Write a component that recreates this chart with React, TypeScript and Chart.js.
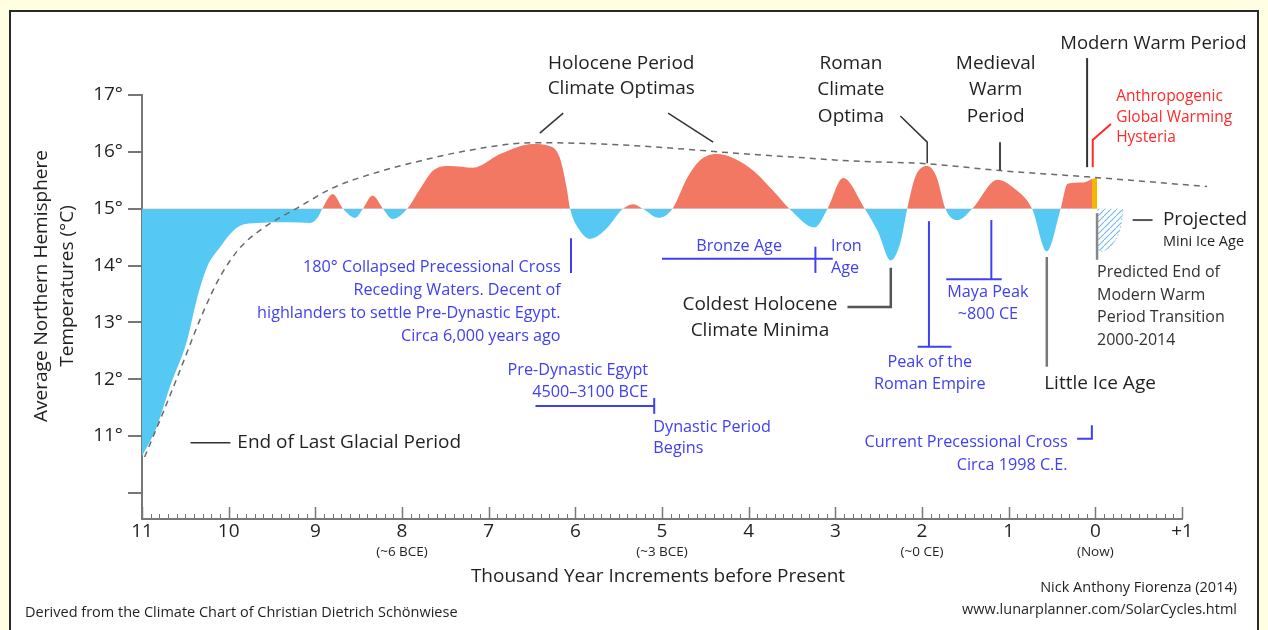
import React, { useEffect, useRef } from "react";
import { Chart, registerables } from "chart.js";
Chart.register(...registerables);

const FONT = "'Open Sans', Lato, sans-serif";
const DARK = "#231f20";
const BLUE = "#4040f2";
const RED = "#ff2a2a";
const RED_FILL = "#f27864";
const BLUE_FILL = "#55c8f3";
const ORANGE_FILL = "#f7b500";

// Temperature curve (thousand years before present, °C)
const tempYears = [11.0, 10.91, 10.83, 10.68, 10.48, 10.37, 10.25, 10.1, 9.98, 9.87, 9.67, 9.29, 9.06, 8.97, 8.92, 8.8, 8.68, 8.54, 8.45, 8.34, 8.22, 8.11, 7.94, 7.79, 7.64, 7.45, 7.18, 6.87, 6.49, 6.29, 6.18, 6.1, 6.06, 5.95, 5.83, 5.66, 5.45, 5.33, 5.22, 5.04, 4.88, 4.71, 4.56, 4.37, 3.99, 3.72, 3.53, 3.24, 3.09, 2.91, 2.66, 2.51, 2.36, 2.25, 2.17, 2.08, 1.94, 1.83, 1.73, 1.59, 1.42, 1.13, 0.93, 0.73, 0.56, 0.4, 0.32, 0.14, 0.03];
const tempValues = [10.65, 10.9, 11.16, 11.86, 12.68, 13.39, 13.97, 14.32, 14.56, 14.7, 14.75, 14.76, 14.75, 14.85, 15.0, 15.26, 15.0, 14.84, 15.0, 15.23, 15.0, 14.82, 15.0, 15.35, 15.67, 15.75, 15.72, 15.96, 16.14, 16.1, 15.9, 15.37, 15.0, 14.62, 14.47, 14.62, 15.0, 15.08, 15.0, 14.84, 15.0, 15.54, 15.85, 15.96, 15.72, 15.32, 15.0, 14.67, 15.0, 15.54, 15.0, 14.6, 14.09, 14.4, 15.0, 15.55, 15.75, 15.55, 15.0, 14.8, 15.0, 15.51, 15.35, 15.0, 14.25, 15.0, 15.44, 15.46, 15.53];

// Anthropogenic segment
const modernYears = [0.04, -0.02];
const modernValues = [15.52, 15.55];

// Projected mini ice age
const projYears = [-0.03, -0.03, -0.08, -0.2, -0.28, -0.32];
const projValues = [15.0, 14.3, 14.25, 14.38, 14.62, 15.0];

// Long-term trend (dashed)
const trendYears = [10.97, 10.76, 10.56, 10.3, 10.1, 9.87, 9.6, 9.21, 8.79, 8.22, 7.79, 7.25, 6.49, 5.72, 4.94, 4.18, 3.41, 2.83, 1.94, 1.1, 0.1, -1.29];
const trendValues = [10.63, 11.4, 12.16, 13.16, 13.8, 14.31, 14.66, 15.01, 15.37, 15.67, 15.84, 16.02, 16.16, 16.14, 16.07, 15.98, 15.9, 15.84, 15.79, 15.67, 15.56, 15.39];

const yTickValues = [10, 11, 12, 13, 14, 15, 16, 17];
const xSubLabelYears = [8, 5, 2, 0];
const xSubLabelTexts = ["(~6 BCE)", "(~3 BCE)", "(~0 CE)", "(Now)"];

type TextNote = { lines: string[]; v: number; t: number; align: CanvasTextAlign; color: string; size: number; lh?: number };
type LineNote = { pts: number[][]; color: string; w: number };

const textNotes: TextNote[] = [
  { lines: ["Holocene Period", "Climate Optimas"], v: 5.47, t: 17.56, align: "center", color: DARK, size: 19, lh: 25 },
  { lines: ["Roman", "Climate", "Optima"], v: 2.82, t: 17.56, align: "center", color: DARK, size: 19, lh: 26.5 },
  { lines: ["Medieval", "Warm", "Period"], v: 1.15, t: 17.56, align: "center", color: DARK, size: 19, lh: 26.5 },
  { lines: ["Modern Warm Period"], v: -0.67, t: 17.9, align: "center", color: DARK, size: 18.5 },
  { lines: ["Anthropogenic", "Global Warming", "Hysteria"], v: -0.24, t: 16.97, align: "left", color: RED, size: 15.5, lh: 20.5 },
  { lines: ["180° Collapsed Precessional Cross", "Receding Waters. Decent of", "highlanders to settle Pre-Dynastic Egypt.", "Circa 6,000 years ago"], v: 6.17, t: 13.96, align: "right", color: BLUE, size: 16.2, lh: 22.7 },
  { lines: ["Bronze Age"], v: 4.11, t: 14.34, align: "center", color: BLUE, size: 16.2 },
  { lines: ["Iron", "Age"], v: 3.05, t: 14.33, align: "left", color: BLUE, size: 16.2, lh: 22 },
  { lines: ["Coldest Holocene", "Climate Minima"], v: 3.87, t: 13.32, align: "center", color: DARK, size: 19, lh: 26 },
  { lines: ["Peak of the", "Roman Empire"], v: 1.91, t: 12.29, align: "center", color: BLUE, size: 16.2, lh: 22 },
  { lines: ["Maya Peak", "~800 CE"], v: 1.24, t: 13.52, align: "center", color: BLUE, size: 16.2, lh: 22 },
  { lines: ["Little Ice Age"], v: 0.59, t: 11.93, align: "left", color: DARK, size: 19 },
  { lines: ["Current Precessional Cross", "Circa 1998 C.E."], v: 0.32, t: 10.88, align: "right", color: BLUE, size: 16.2, lh: 23 },
  { lines: ["Projected"], v: -0.78, t: 14.8, align: "left", color: DARK, size: 19 },
  { lines: ["Mini Ice Age"], v: -0.78, t: 14.41, align: "left", color: DARK, size: 14.5 },
  { lines: ["Predicted End of", "Modern Warm", "Period Transition", "2000-2014"], v: -0.02, t: 13.87, align: "left", color: "#333", size: 16, lh: 22.5 },
  { lines: ["Pre-Dynastic Egypt", "4500\u20133100 BCE"], v: 5.16, t: 12.16, align: "right", color: BLUE, size: 16.2, lh: 22 },
  { lines: ["Dynastic Period", "Begins"], v: 5.1, t: 11.16, align: "left", color: BLUE, size: 16.2, lh: 21 },
  { lines: ["End of Last Glacial Period"], v: 9.9, t: 10.88, align: "left", color: DARK, size: 19 },
];

const lineNotes: LineNote[] = [
  { pts: [[6.14, 16.68], [6.41, 16.33]], color: "#333", w: 1.5 },
  { pts: [[4.93, 16.68], [4.41, 16.17]], color: "#333", w: 1.5 },
  { pts: [[2.25, 16.63], [1.94, 16.17], [1.94, 15.8]], color: "#333", w: 1.5 },
  { pts: [[1.1, 16.17], [1.1, 15.68]], color: "#444", w: 2 },
  { pts: [[0.095, 17.65], [0.095, 15.73]], color: "#333", w: 2 },
  { pts: [[-0.18, 16.49], [0.03, 16.21], [0.03, 15.73]], color: RED, w: 2 },
  { pts: [[6.05, 14.48], [6.05, 13.87]], color: BLUE, w: 2 },
  { pts: [[5.0, 14.12], [3.03, 14.12]], color: BLUE, w: 2 },
  { pts: [[3.23, 14.33], [3.23, 13.87]], color: BLUE, w: 2 },
  { pts: [[2.86, 13.27], [2.36, 13.27], [2.36, 13.96]], color: "#555", w: 2.5 },
  { pts: [[1.92, 14.78], [1.92, 12.57]], color: BLUE, w: 2 },
  { pts: [[2.05, 12.57], [1.66, 12.57]], color: BLUE, w: 2 },
  { pts: [[1.2, 14.8], [1.2, 13.76]], color: BLUE, w: 2 },
  { pts: [[1.72, 13.76], [1.08, 13.76]], color: BLUE, w: 2 },
  { pts: [[0.56, 14.15], [0.56, 12.22]], color: "#777", w: 2.5 },
  { pts: [[0.21, 10.95], [0.04, 10.95], [0.04, 11.19]], color: BLUE, w: 2 },
  { pts: [[-0.43, 14.8], [-0.66, 14.8]], color: "#555", w: 2 },
  { pts: [[-0.02, 14.92], [-0.02, 14.1]], color: "#888", w: 2.5 },
  { pts: [[6.46, 11.53], [5.09, 11.53]], color: BLUE, w: 2 },
  { pts: [[5.09, 11.67], [5.09, 11.39]], color: BLUE, w: 2 },
  { pts: [[10.44, 10.88], [9.98, 10.88]], color: "#333", w: 1.5 },
];

const notesPlugin = {
  id: "notes",
  afterDraw(chart: any) {
    const { ctx, chartArea } = chart;
    const xs = chart.scales.x;
    const ys = chart.scales.y;
    const X = (v: number) => xs.getPixelForValue(v);
    const Y = (t: number) => ys.getPixelForValue(t);
    ctx.save();
    // inward x ticks
    for (let i = -10; i <= 110; i++) {
      const major = i % 10 === 0;
      const px = Math.round(X(i / 10)) + 0.5;
      ctx.beginPath();
      ctx.moveTo(px, chartArea.bottom);
      ctx.lineTo(px, chartArea.bottom - (major ? 12 : 5));
      ctx.lineWidth = major ? 1.5 : 1;
      ctx.strokeStyle = "#777";
      ctx.stroke();
    }
    // leader lines
    ctx.lineCap = "butt";
    ctx.lineJoin = "miter";
    for (const ln of lineNotes) {
      ctx.beginPath();
      ln.pts.forEach((p, k) => {
        const px = X(p[0]);
        const py = Y(p[1]);
        if (k === 0) ctx.moveTo(px, py);
        else ctx.lineTo(px, py);
      });
      ctx.strokeStyle = ln.color;
      ctx.lineWidth = ln.w;
      ctx.stroke();
    }
    // texts
    ctx.textBaseline = "middle";
    for (const tn of textNotes) {
      ctx.font = `${tn.size}px ${FONT}`;
      ctx.fillStyle = tn.color;
      ctx.textAlign = tn.align;
      tn.lines.forEach((s, k) => ctx.fillText(s, X(tn.v), Y(tn.t) + k * (tn.lh || 0)));
    }
    // x sub labels
    ctx.font = `13.5px ${FONT}`;
    ctx.fillStyle = DARK;
    ctx.textAlign = "center";
    xSubLabelYears.forEach((v, i) => ctx.fillText(xSubLabelTexts[i], X(v), chartArea.bottom + 33));
    // axis titles
    ctx.font = `19px ${FONT}`;
    ctx.fillText("Thousand Year Increments before Present", (chartArea.left + chartArea.right) / 2 - 4, chartArea.bottom + 58);
    ctx.save();
    ctx.translate(42, 286);
    ctx.rotate(-Math.PI / 2);
    ctx.fillText("Average Northern Hemisphere", 0, 0);
    ctx.fillText("Temperatures (\u00B0C)", 0, 26);
    ctx.restore();
    // credits
    ctx.font = `14.5px ${FONT}`;
    ctx.textAlign = "left";
    ctx.fillText("Derived from the Climate Chart of Christian Dietrich Sch\u00F6nwiese", 25, 613);
    ctx.textAlign = "right";
    ctx.fillText("Nick Anthony Fiorenza (2014)", 1237, 588);
    ctx.fillText("www.lunarplanner.com/SolarCycles.html", 1237, 610);
    ctx.restore();
  },
};

export default function App() {
  const ref = useRef<HTMLCanvasElement | null>(null);
  useEffect(() => {
    const canvas = ref.current!;
    const pc = document.createElement("canvas");
    pc.width = 6;
    pc.height = 6;
    const pctx = pc.getContext("2d")!;
    pctx.strokeStyle = "#72b9e8";
    pctx.lineWidth = 1.1;
    pctx.beginPath();
    pctx.moveTo(0, 6);
    pctx.lineTo(6, 0);
    pctx.stroke();
    const ctx = canvas.getContext("2d")!;
    const pattern = ctx.createPattern(pc, "repeat");

    const chart = new Chart(canvas, {
      type: "line",
      data: {
        datasets: [
          {
            data: trendYears.map((v, i) => ({ x: v, y: trendValues[i] })),
            borderColor: "#6a6a6a",
            borderWidth: 1.5,
            borderDash: [6, 5],
            pointRadius: 0,
            fill: false,
            cubicInterpolationMode: "monotone",
            clip: false,
          } as any,
          {
            data: projYears.map((v, i) => ({ x: v, y: projValues[i] })),
            borderColor: "#9fd0f0",
            borderWidth: 1,
            borderDash: [2, 2],
            backgroundColor: pattern,
            fill: { target: { value: 15 } },
            pointRadius: 0,
            tension: 0.4,
          } as any,
          {
            data: modernYears.map((v, i) => ({ x: v, y: modernValues[i] })),
            borderWidth: 0,
            borderColor: "rgba(0,0,0,0)",
            backgroundColor: ORANGE_FILL,
            fill: { target: { value: 15 } },
            pointRadius: 0,
          } as any,
          {
            data: tempYears.map((v, i) => ({ x: v, y: tempValues[i] })),
            borderWidth: 0,
            borderColor: "rgba(0,0,0,0)",
            fill: { target: { value: 15 }, above: RED_FILL, below: BLUE_FILL },
            pointRadius: 0,
            cubicInterpolationMode: "monotone",
          } as any,
        ],
      },
      options: {
        responsive: false,
        animation: false,
        events: [],
        layout: { padding: { top: 95, right: 86, left: 0, bottom: 0 } },
        plugins: { legend: { display: false }, tooltip: { enabled: false } },
        scales: {
          x: {
            type: "linear",
            reverse: true,
            min: -1,
            max: 11,
            afterFit: (s: any) => {
              s.height = 111;
            },
            border: { display: true, color: "#777", width: 2 },
            grid: { display: true, drawOnChartArea: false, drawTicks: false },
            ticks: {
              stepSize: 1,
              autoSkip: false,
              maxRotation: 0,
              color: DARK,
              font: { family: FONT, size: 19 },
              padding: 1,
              callback: (v: any) => (v === -1 ? "+1" : String(v)),
            },
          },
          y: {
            min: 9.54,
            max: 17,
            afterFit: (s: any) => {
              s.width = 142;
            },
            afterBuildTicks: (s: any) => {
              s.ticks = yTickValues.map((v) => ({ value: v }));
            },
            border: { display: true, color: "#777", width: 2 },
            grid: { drawOnChartArea: false, drawTicks: true, tickLength: 14, color: "#777", lineWidth: 2 },
            ticks: {
              color: DARK,
              font: { family: FONT, size: 19 },
              padding: 5,
              callback: (v: any) => (v === 10 ? "" : v + "\u00B0"),
            },
          },
        } as any,
      },
      plugins: [notesPlugin],
    });
    return () => chart.destroy();
  }, []);

  return (
    <div style={{ position: "fixed", left: 0, top: 0, width: 1268, height: 630, background: "#fffde2", overflow: "hidden" }}>
      <div style={{ position: "absolute", left: 9, top: 10, width: 1250, height: 700, background: "#fff", border: "2px solid #2a2a2a", boxSizing: "border-box" }} />
      <canvas ref={ref} width={1268} height={630} style={{ position: "absolute", left: 0, top: 0 }} />
    </div>
  );
}
